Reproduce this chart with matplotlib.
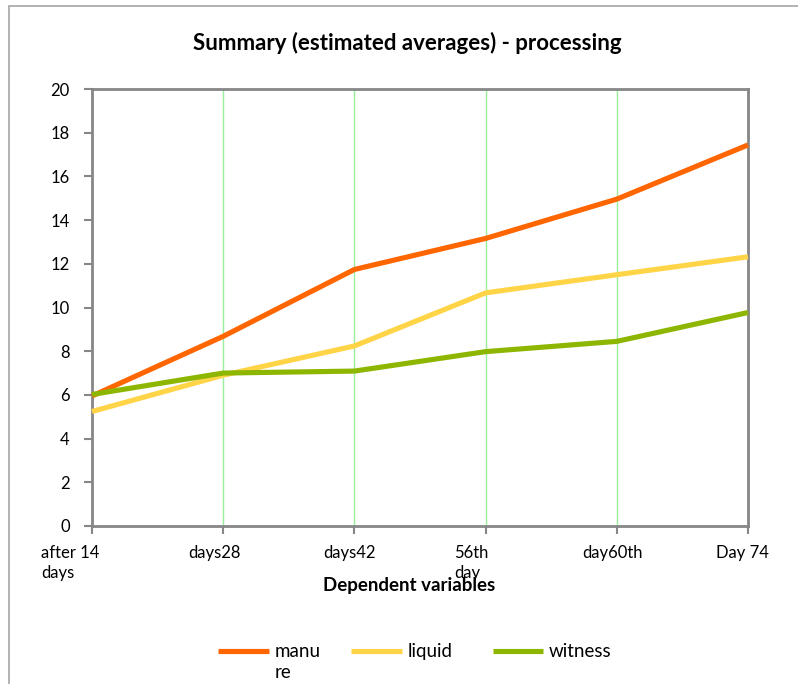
import matplotlib
matplotlib.use("Agg")
import matplotlib.pyplot as plt
import matplotlib.transforms as mtransforms
from matplotlib.patches import Rectangle
from matplotlib.lines import Line2D

plt.rcParams['font.family'] = ['Lato', 'DejaVu Sans']

categories = ["after 14\ndays", "days28", "days42", "56th\nday", "day60th", "Day 74"]
manure = [5.95, 8.68, 11.74, 13.16, 14.96, 17.44]
liquid = [5.24, 6.90, 8.24, 10.67, 11.50, 12.32]
witness = [6.02, 7.00, 7.09, 7.98, 8.45, 9.77]
series_labels = ["manu\nre", "liquid", "witness"]
y_ticks = [0, 2, 4, 6, 8, 10, 12, 14, 16, 18, 20]

colors = ["#FF6600", "#FFD447", "#8DB600"]
spine_color = "#868686"
grid_color = "#99EE99"

W, H = 798, 684
fig = plt.figure(figsize=(W / 100, H / 100), dpi=100)

# chart outer frame
fig.patches.append(Rectangle((9 / W, -0.1), 1.2, (H - 6) / H + 0.1,
                             transform=fig.transFigure, fill=False,
                             edgecolor="#A6A6A6", linewidth=1.2))

left, right, top, bottom = 92, 748, 89, 526
ax = fig.add_axes([left / W, 1 - bottom / H, (right - left) / W, (bottom - top) / H])

x = list(range(len(categories)))
for vals, c in zip([manure, liquid, witness], colors):
    ax.plot(x, vals, color=c, linewidth=3.7, solid_capstyle="butt",
            solid_joinstyle="round", zorder=3, clip_on=False)

ax.set_xlim(0, len(categories) - 1)
ax.set_ylim(0, 20)
ax.set_yticks(y_ticks)
ax.set_yticklabels([str(v) for v in y_ticks])
ax.set_xticks(x)
ax.set_xticklabels(categories, multialignment="left")

for gx in x[1:-1]:
    ax.axvline(gx, color=grid_color, linewidth=1.0, zorder=1)

for s in ax.spines.values():
    s.set_color(spine_color)
    s.set_linewidth(2.0)

ax.tick_params(axis="both", colors=spine_color, labelcolor="black",
               labelsize=12, width=1.5, length=6, direction="out")
ax.tick_params(axis="x", pad=8)
ax.tick_params(axis="y", pad=10)

# per-label horizontal nudges of the category labels
nudges = [-22, -9, -5, -14, -4, -6]
for lbl, dx in zip(ax.get_xticklabels(), nudges):
    lbl.set_transform(lbl.get_transform() +
                      mtransforms.ScaledTranslation(dx / 100, 0, fig.dpi_scale_trans))
    lbl.set_linespacing(1.3)

fig.text(407 / W, 1 - 43 / H, "Summary (estimated averages) - processing",
         ha="center", va="center", fontsize=16, fontweight="bold")
fig.text(409 / W, 1 - 586 / H, "Dependent variables",
         ha="center", va="center", fontsize=13.5, fontweight="bold")

# legend: sample line followed by its label
legend_y = 1 - 651 / H
handle_x = [(218, 269), (351, 402), (493, 543)]
text_x = [275, 408, 549]
for (x0, x1), tx, c, lab in zip(handle_x, text_x, colors, series_labels):
    fig.add_artist(Line2D([x0 / W, x1 / W], [legend_y, legend_y],
                          transform=fig.transFigure, color=c, linewidth=3.7,
                          solid_capstyle="butt"))
    fig.text(tx / W, 1 - 643 / H, lab, ha="left", va="top",
             fontsize=13.5, linespacing=1.3)

fig.savefig("out.png", dpi=100)
